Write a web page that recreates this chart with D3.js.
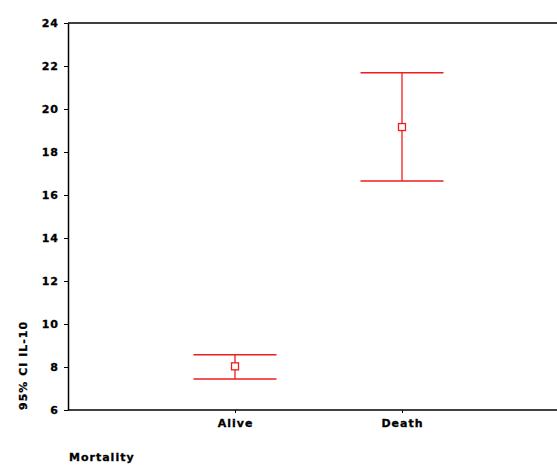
<!DOCTYPE html>
<html><head><meta charset="utf-8">
<script src="https://cdn.jsdelivr.net/npm/d3@7/dist/d3.min.js"></script>
<style>
body{margin:0;background:#fff;}
text{font-family:"DejaVu Sans",Verdana,sans-serif;font-weight:bold;fill:#000;stroke:#000;stroke-width:0.3px;}
</style></head>
<body><svg id="c" width="557" height="466"></svg>
<script>
const categories = ["Alive", "Death"];
const means = [8.03, 19.16];
const lower = [7.44, 16.65];
const upper = [8.57, 21.69];
const yTicks = [6, 8, 10, 12, 14, 16, 18, 20, 22, 24];
const yTitle = "95% CI IL-10";
const xTitle = "Mortality";

(function(){
const svg = d3.select("#c");
const pl = 68, pr = 569, pt = 23, pb = 410;
const x = d3.scalePoint().domain(categories).range([pl, pr]).padding(1);
const y = d3.scaleLinear().domain([6, 24]).range([pb, pt]);

svg.append("line").attr("x1", pl).attr("x2", pr).attr("y1", pt).attr("y2", pt)
  .attr("stroke", "#000").attr("stroke-width", 1.5);

const ya = svg.append("g").attr("transform", `translate(${pl},0)`)
  .call(d3.axisLeft(y).tickValues(yTicks).tickSize(4).tickPadding(5).tickSizeOuter(0));
ya.select(".domain").attr("stroke", "#000").attr("stroke-width", 1.5);
ya.selectAll("text").style("font-size", "11px").style("letter-spacing", "1px");

const xa = svg.append("g").attr("transform", `translate(0,${pb})`)
  .call(d3.axisBottom(x).tickSize(3).tickPadding(6).tickSizeOuter(0));
xa.select(".domain").attr("d", `M${pl},0H${pr}`).attr("stroke", "#000").attr("stroke-width", 1.5);
xa.selectAll("text").style("font-size", "11px").style("letter-spacing", "1px");

const red = "#ee1c1c";
const cap = 41.5;
const g = svg.append("g");
categories.forEach((c, i) => {
  const cx = x(c);
  g.append("line").attr("x1", cx).attr("x2", cx).attr("y1", y(upper[i])).attr("y2", y(lower[i]))
    .attr("stroke", red).attr("stroke-width", 1.3);
  [upper[i], lower[i]].forEach(v => {
    g.append("line").attr("x1", cx - cap).attr("x2", cx + cap).attr("y1", y(v)).attr("y2", y(v))
      .attr("stroke", red).attr("stroke-width", 1.5);
  });
  g.append("rect").attr("x", cx - 3.5).attr("y", y(means[i]) - 3.5).attr("width", 7).attr("height", 7)
    .attr("fill", "#fff").attr("stroke", red).attr("stroke-width", 1.3);
});

svg.append("text").attr("transform", "translate(27,410) rotate(-90)")
  .attr("text-anchor", "start").style("font-size", "11px").style("letter-spacing", "1px").text(yTitle);
svg.append("text").attr("x", 69).attr("y", 461).style("font-size", "11px").style("letter-spacing", "1px").text(xTitle);
})();
</script></body></html>
